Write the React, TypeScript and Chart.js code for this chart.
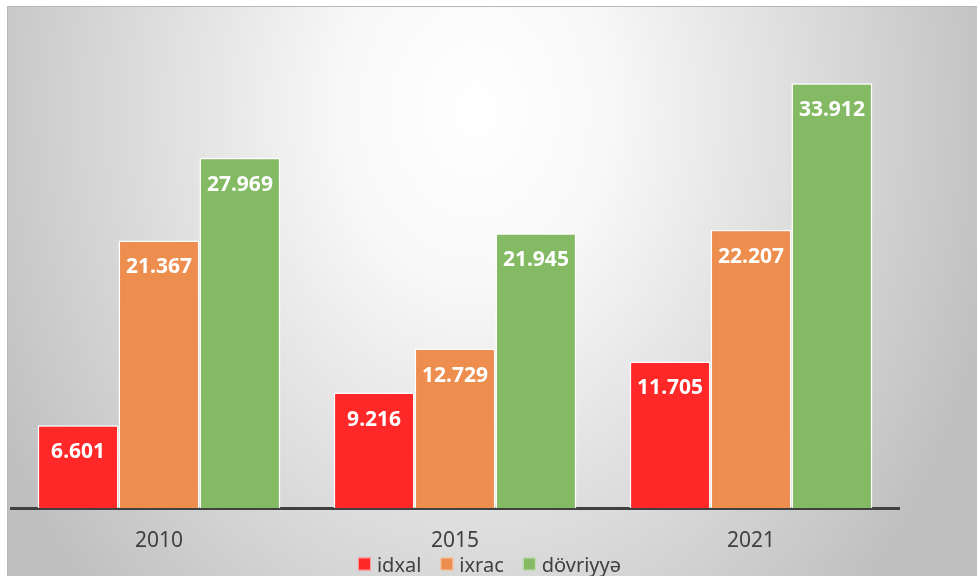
import React, { useEffect, useRef } from "react";
import { Chart, registerables } from "chart.js";

Chart.register(...registerables);

const categories = ["2010", "2015", "2021"];
const idxal = [6.601, 9.216, 11.705];
const ixrac = [21.367, 12.729, 22.207];
const dovriyye = [27.969, 21.945, 33.912];
const seriesNames = ["idxal", "ixrac", "dövriyyə"];

const bgPlugin = {
  id: "bgPlugin",
  beforeDraw(chart: any) {
    const ctx = chart.ctx;
    const W = chart.width;
    const H = chart.height;
    const x0 = 7, y0 = 6;
    ctx.save();
    ctx.fillStyle = "#ffffff";
    ctx.fillRect(0, 0, W, H);
    const cx = 475, cy = 110, rx = 540, ry = 700;
    ctx.translate(cx, cy);
    ctx.scale(1, ry / rx);
    const g = ctx.createRadialGradient(0, 0, 0, 0, 0, rx);
    g.addColorStop(0, "#ffffff");
    g.addColorStop(0.25, "#f8f8f8");
    g.addColorStop(1, "#bfbfbf");
    ctx.fillStyle = g;
    const s = rx / ry;
    ctx.fillRect(x0 - cx, (y0 - cy) * s, W - x0, (H - y0) * s);
    ctx.restore();
    ctx.save();
    ctx.strokeStyle = "#b8b8b8";
    ctx.lineWidth = 1;
    ctx.beginPath();
    ctx.moveTo(x0 + 0.5, H);
    ctx.lineTo(x0 + 0.5, y0 + 0.5);
    ctx.lineTo(W, y0 + 0.5);
    ctx.stroke();
    ctx.restore();
  },
};

const labelPlugin = {
  id: "labelPlugin",
  afterDatasetsDraw(chart: any) {
    const ctx = chart.ctx;
    ctx.save();
    ctx.fillStyle = "#ffffff";
    ctx.font = "bold 21px 'Noto Sans', sans-serif";
    ctx.textAlign = "center";
    ctx.textBaseline = "middle";
    chart.data.datasets.forEach((ds: any, i: number) => {
      const meta = chart.getDatasetMeta(i);
      meta.data.forEach((el: any, j: number) => {
        const v = ds.data[j] as number;
        ctx.fillText(v.toFixed(3), el.x, el.y + 27);
      });
    });
    ctx.restore();
  },
};

const legendPlugin = {
  id: "customLegend",
  afterDraw(chart: any) {
    const ctx = chart.ctx;
    const dsets = chart.data.datasets;
    ctx.save();
    ctx.font = "20px 'Noto Sans', sans-serif";
    const box = 13, gapText = 6, gapItem = 19;
    const widths = dsets.map((d: any) => ctx.measureText(d.label).width);
    let total = 0;
    widths.forEach((w: number, i: number) => {
      total += box + gapText + w + (i < widths.length - 1 ? gapItem : 0);
    });
    let x = (chart.width - total) / 2 + 1;
    const baseline = 571.5;
    const boxTop = 557.5;
    dsets.forEach((d: any, i: number) => {
      ctx.fillStyle = d.backgroundColor;
      ctx.fillRect(x, boxTop, box, box);
      ctx.strokeStyle = "rgba(255,255,255,0.55)";
      ctx.lineWidth = 1;
      ctx.strokeRect(x + 0.5, boxTop + 0.5, box - 1, box - 1);
      x += box + gapText;
      ctx.fillStyle = "#404040";
      ctx.textAlign = "left";
      ctx.textBaseline = "alphabetic";
      ctx.fillText(d.label, x, baseline);
      x += widths[i] + gapItem;
    });
    ctx.restore();
  },
};

export default function App() {
  const ref = useRef<HTMLCanvasElement>(null);
  useEffect(() => {
    if (!ref.current) return;
    const colors = ["#fe2828", "#ee8e4e", "#85ba64"];
    const values = [idxal, ixrac, dovriyye];
    const chart = new Chart(ref.current, {
      type: "bar",
      data: {
        labels: categories,
        datasets: values.map((d, i) => ({
          label: seriesNames[i],
          data: d,
          backgroundColor: colors[i],
          borderColor: "#ffffff",
          borderWidth: 1.5,
          barPercentage: 1,
          categoryPercentage: 0.82,
        })),
      },
      options: {
        animation: false,
        responsive: false,
        layout: { padding: { left: 11, right: 78, top: 7, bottom: 1 } },
        plugins: {
          tooltip: { enabled: false },
          legend: { display: false },
        },
        scales: {
          x: {
            grid: { display: false, drawTicks: false },
            border: { display: true, color: "#404040", width: 3 },
            ticks: {
              color: "#404040",
              padding: 23,
              font: { size: 21, family: "'Noto Sans', sans-serif", lineHeight: 1.0 },
            },
          },
          y: {
            display: false,
            min: 0,
            max: 40,
          },
        },
      },
      plugins: [bgPlugin, labelPlugin, legendPlugin],
    });
    return () => chart.destroy();
  }, []);
  return (
    <div style={{ position: "absolute", left: 0, top: 0, width: 977, height: 576 }}>
      <canvas ref={ref} width={977} height={576} style={{ display: "block" }} />
    </div>
  );
}
